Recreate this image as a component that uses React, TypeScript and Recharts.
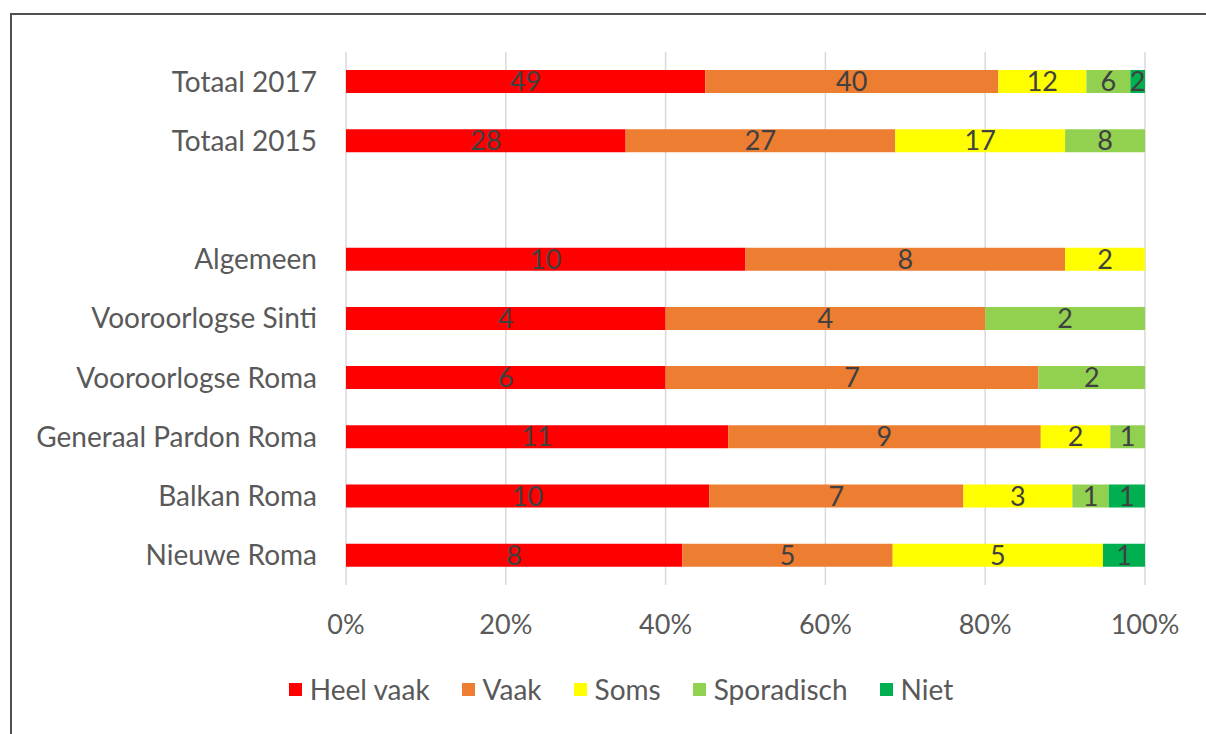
import React from 'react';
import {
  BarChart,
  Bar,
  XAxis,
  YAxis,
  CartesianGrid,
  LabelList,
} from 'recharts';

// Rows top to bottom; the empty name is the blank spacer row
const categories = [
  'Totaal 2017',
  'Totaal 2015',
  '',
  'Algemeen',
  'Vooroorlogse Sinti',
  'Vooroorlogse Roma',
  'Generaal Pardon Roma',
  'Balkan Roma',
  'Nieuwe Roma',
];

const heelVaak = [49, 28, null, 10, 4, 6, 11, 10, 8];
const vaak = [40, 27, null, 8, 4, 7, 9, 7, 5];
const soms = [12, 17, null, 2, null, null, 2, 3, 5];
const sporadisch = [6, 8, null, null, 2, 2, 1, 1, null];
const niet = [2, null, null, null, null, null, null, 1, 1];

const xTicks = [0, 0.2, 0.4, 0.6, 0.8, 1];

const series = [
  { key: 'heelVaak', name: 'Heel vaak', color: '#FF0000', values: heelVaak },
  { key: 'vaak', name: 'Vaak', color: '#ED7D31', values: vaak },
  { key: 'soms', name: 'Soms', color: '#FFFF00', values: soms },
  { key: 'sporadisch', name: 'Sporadisch', color: '#92D050', values: sporadisch },
  { key: 'niet', name: 'Niet', color: '#00B050', values: niet },
];

const data = categories.map((name, i) => {
  const row: Record<string, string | number | null> = { name };
  series.forEach((s) => {
    row[s.key] = s.values[i];
  });
  return row;
});

const FONT = 'Lato, "Open Sans", sans-serif';
const TEXT = '#595959';

export default function App() {
  return (
    <div
      style={{
        position: 'absolute',
        left: 0,
        top: 0,
        width: 1206,
        height: 734,
        background: '#fff',
        overflow: 'hidden',
        fontFamily: FONT,
      }}
    >
      {/* chart frame, runs off the right/bottom edge like the screenshot */}
      <div
        style={{
          position: 'absolute',
          left: 10,
          top: 13,
          width: 1300,
          height: 800,
          border: '2px solid #505050',
        }}
      />
      <div style={{ position: 'absolute', left: 0, top: 0 }}>
        <BarChart
          width={1206}
          height={734}
          data={data}
          layout="vertical"
          stackOffset="expand"
          barSize={23}
          margin={{ top: 52, right: 61, bottom: 89, left: 16 }}
        >
          <CartesianGrid horizontal={false} stroke="#d9d9d9" strokeWidth={1.5} />
          <XAxis
            type="number"
            domain={[0, 1]}
            ticks={xTicks}
            tickFormatter={(v: number) => `${Math.round(v * 100)}%`}
            axisLine={false}
            tickLine={false}
            tickMargin={24}
            height={60}
            tick={{ fill: TEXT, fontSize: 27, fontFamily: FONT }}
          />
          <YAxis
            type="category"
            dataKey="name"
            width={330}
            axisLine={false}
            tickLine={false}
            tickMargin={23}
            interval={0}
            tick={{ fill: TEXT, fontSize: 28, fontFamily: FONT }}
          />
          {series.map((s) => (
            <Bar
              key={s.key}
              dataKey={s.key}
              name={s.name}
              stackId="a"
              fill={s.color}
              isAnimationActive={false}
            >
              <LabelList
                dataKey={s.key}
                position="center"
                formatter={(v: any) => (v ? v : '')}
                fill="#404040"
                fontSize={27}
                fontFamily={FONT}
              />
            </Bar>
          ))}
        </BarChart>
      </div>
      {/* legend */}
      <div
        style={{
          position: 'absolute',
          left: 0,
          top: 671,
          width: 1242,
          height: 36,
          display: 'flex',
          justifyContent: 'center',
          alignItems: 'center',
          gap: 32,
          color: TEXT,
          fontSize: 28,
        }}
      >
        {series.map((s) => (
          <div key={s.key} style={{ display: 'flex', alignItems: 'center' }}>
            <span
              style={{
                display: 'inline-block',
                width: 13,
                height: 13,
                background: s.color,
                marginRight: 8,
              }}
            />
            <span>{s.name}</span>
          </div>
        ))}
      </div>
    </div>
  );
}
